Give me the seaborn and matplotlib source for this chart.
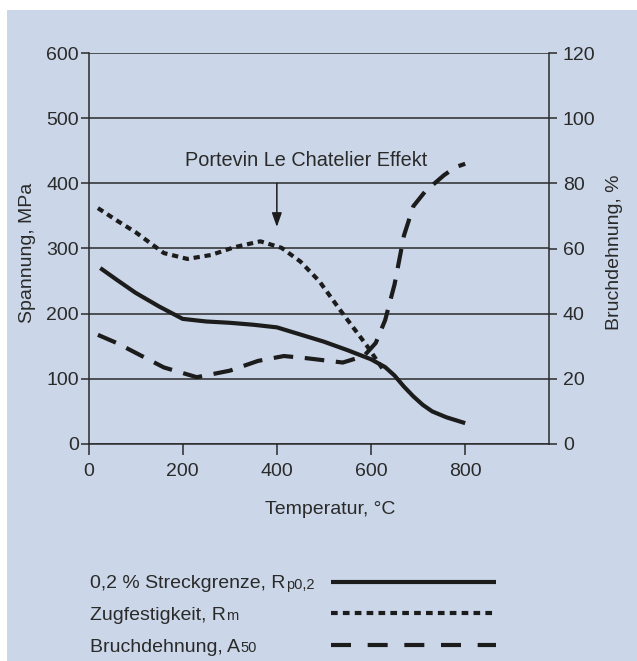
import matplotlib
matplotlib.use("Agg")
import matplotlib.pyplot as plt
from matplotlib.patches import Rectangle
from matplotlib.lines import Line2D
import seaborn as sns
import pandas as pd

# Yield strength Rp0,2 (MPa)
rp_temp = [25, 60, 100, 150, 200, 250, 300, 350, 400, 450, 500, 550, 600, 630, 650, 670, 690, 710, 730, 760, 800]
rp_mpa = [270, 252, 232, 211, 192, 188, 186, 183, 179, 168, 157, 144, 130, 118, 105, 88, 73, 60, 50, 41, 32]

# Tensile strength Rm (MPa)
rm_temp = [20, 60, 100, 160, 210, 260, 310, 365, 410, 450, 490, 535, 590, 625]
rm_mpa = [362, 343, 325, 293, 284, 290, 302, 311, 301, 280, 250, 205, 152, 115]

# Elongation at fracture A50 (%)
a_temp = [20, 60, 100, 160, 230, 300, 360, 415, 465, 540, 585, 610, 630, 650, 670, 690, 715, 735, 755, 780, 800]
a_pct = [33.5, 31, 28, 23.5, 20.5, 22.5, 25.5, 27, 26.3, 25, 27, 31, 38, 49, 64, 73, 77.5, 80, 82.5, 85, 86]

x_ticks = [0, 200, 400, 600, 800]
left_ticks = [0, 100, 200, 300, 400, 500, 600]
right_ticks = [0, 20, 40, 60, 80, 100, 120]

legend_labels = [("0,2 % Streckgrenze, R", "p0,2"),
                 ("Zugfestigkeit, R", "m"),
                 ("Bruchdehnung, A", "50")]

sns.set_style("ticks")
plt.rcParams["font.family"] = ["Liberation Sans", "DejaVu Sans"]
plt.rcParams["font.size"] = 14

BG = "#cbd7e8"
INK = "#1c1c1c"
GRID = "#2a2a2a"
TXT = "#2a2a2a"

W, H = 637, 661
fig = plt.figure(figsize=(W / 100, H / 100), dpi=100)
fig.patch.set_facecolor("white")
fig.add_artist(Rectangle((7 / W, 0), 1 - 7 / W, 1 - 10 / H, transform=fig.transFigure,
                         facecolor=BG, edgecolor="none", zorder=-10))

ax_l, ax_r, ax_t, ax_b = 88.5, 549, 53, 444
ax = fig.add_axes([ax_l / W, 1 - ax_b / H, (ax_r - ax_l) / W, (ax_b - ax_t) / H])
ax.set_facecolor("none")
ax2 = ax.twinx()
ax2.set_facecolor("none")

lw = 3.0
df_rp = pd.DataFrame({"T": rp_temp, "v": rp_mpa})
df_rm = pd.DataFrame({"T": rm_temp, "v": rm_mpa})
df_a = pd.DataFrame({"T": a_temp, "v": a_pct})

sns.lineplot(data=df_rp, x="T", y="v", ax=ax, color=INK, linewidth=lw,
             solid_capstyle="butt", solid_joinstyle="round", zorder=3)
sns.lineplot(data=df_rm, x="T", y="v", ax=ax, color=INK, linewidth=lw,
             linestyle=(0, (1.5, 1.15)), dash_capstyle="butt", zorder=3)
sns.lineplot(data=df_a, x="T", y="v", ax=ax2, color=INK, linewidth=lw,
             linestyle=(0, (4.7, 2.8)), dash_capstyle="butt", zorder=3)

ax.set_xlim(0, 978)
ax.set_ylim(0, 600)
ax2.set_ylim(0, 120)
ax.set_xticks(x_ticks)
ax.set_yticks(left_ticks)
ax2.set_yticks(right_ticks)

for y in left_ticks:
    ax.axhline(y, color=GRID, lw=1.1, zorder=1)

for a in (ax, ax2):
    a.spines["top"].set_visible(False)
    for s in ("left", "right", "bottom"):
        a.spines[s].set_color(GRID)
        a.spines[s].set_linewidth(1.1)
ax.spines["right"].set_visible(False)
ax2.spines["left"].set_visible(False)
ax2.spines["bottom"].set_visible(False)

ax.tick_params(axis="y", direction="out", length=6, width=1.1, color=GRID,
               labelsize=14, labelcolor=TXT, pad=1)
ax2.tick_params(axis="y", direction="out", length=6, width=1.1, color=GRID,
                labelsize=14, labelcolor=TXT, pad=4)
ax.tick_params(axis="x", direction="out", length=8, width=1.1, color=GRID,
               labelsize=14, labelcolor=TXT, pad=6)

ax.set_xlabel("Temperatur, °C", fontsize=14, color=TXT)
ax.xaxis.set_label_coords(0.524, -0.145)
ax.set_ylabel("Spannung, MPa", fontsize=14, color=TXT)
ax.yaxis.set_label_coords(-0.114, 0.49)
ax2.set_ylabel("Bruchdehnung, %", fontsize=14, color=TXT, rotation=90)
ax2.yaxis.set_label_coords(1.124, 0.49)

ax.annotate("", xy=(400, 333), xytext=(400, 400),
            arrowprops=dict(arrowstyle="-|>,head_width=0.3,head_length=0.85",
                            color=INK, lw=1.1, mutation_scale=10, shrinkA=0, shrinkB=0))
ax.text(463, 426, "Portevin Le Chatelier Effekt", ha="center", va="baseline",
        fontsize=14.3, color=TXT)

# legend drawn below the axes
row_y = [582, 613, 645]
styles = [dict(linestyle="-"),
          dict(linestyle=(0, (1.6, 1.25))),
          dict(linestyle=(0, (4.8, 4.0)))]
fig.canvas.draw()
renderer = fig.canvas.get_renderer()
for (main, sub), y, st in zip(legend_labels, row_y, styles):
    yf = 1 - y / H
    base = yf - 6.5 / H
    t = fig.text(90 / W, base, main, ha="left", va="baseline", fontsize=14, color=TXT)
    bb = t.get_window_extent(renderer)
    fig.text(bb.x1 / W + 0.5 / W, base - 1 / H, sub, ha="left", va="baseline",
             fontsize=10.5, color=TXT)
    fig.add_artist(Line2D([331 / W, 496 / W], [yf, yf], transform=fig.transFigure,
                          color=INK, linewidth=lw, dash_capstyle="butt",
                          solid_capstyle="butt", **st))

fig.savefig("out.png", dpi=100, facecolor=fig.get_facecolor())
